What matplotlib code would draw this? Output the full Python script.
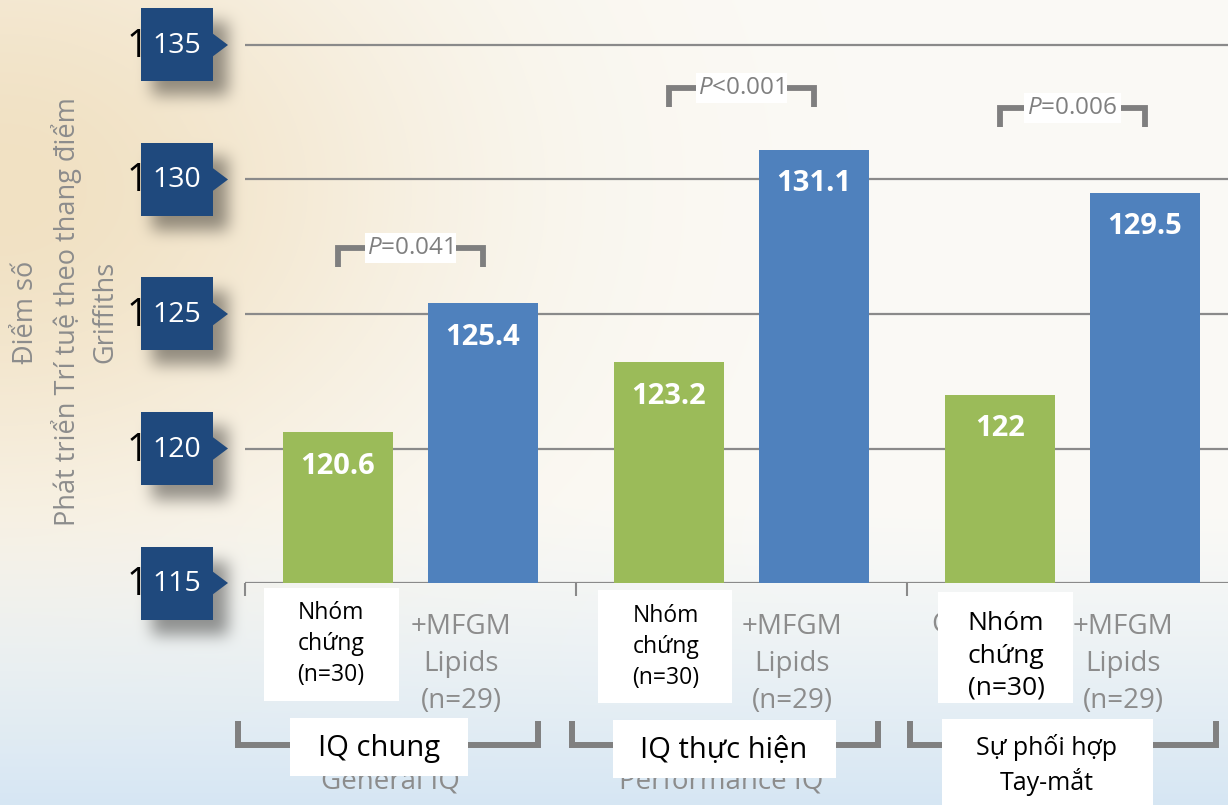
import numpy as np
import matplotlib
matplotlib.use("Agg")
import matplotlib.pyplot as plt
from matplotlib.patches import Rectangle, Polygon

plt.rcParams['font.family'] = ['Open Sans', 'DejaVu Sans']
plt.rcParams['mathtext.fontset'] = 'custom'
plt.rcParams['mathtext.rm'] = 'Open Sans'
plt.rcParams['mathtext.it'] = 'Open Sans:italic'

# ---- data ----
group_labels_vi = ["IQ chung", "IQ thực hiện", "Sự phối hợp\nTay-mắt"]
group_labels_en = ["General IQ", "Performance IQ", ""]
control_values = [120.6, 123.2, 122.0]
mfgm_values = [125.4, 131.1, 129.5]
control_label_vi = "Nhóm\nchứng\n(n=30)"
control_label_en = "Control\n(n=30)"
mfgm_label = "+MFGM\nLipids\n(n=29)"
p_texts = ["$P$=0.041", "$P$<0.001", "$P$=0.006"]
y_ticks = [115, 120, 125, 130, 135]
y_label = "Điểm số\nPhát triển Trí tuệ theo thang điểm\nGriffiths"

# ---- layout ----
W, H = 1228, 805
GREEN = "#9BBB59"
BLUE = "#4F81BD"
NAVY = "#1F497D"
GREY = "#7f7f7f"
bar_w = 0.335
bar_off = 0.219
p_bracket_y = [127.45, 133.4, 132.65]
p_drop = 0.71
ctrl_boxes = [(264, 588, 135, 113), (598, 590, 134, 113), (938, 592, 135, 111)]
ctrl_text_pos = [(331, 644, 16.5), (666, 647, 16.5), (1006, 656, 19)]
group_brackets = [(238, 538), (572, 878), (910, 1216)]
label_boxes = [(290, 718, 178, 58), (613, 720, 223, 58), (942, 719, 211, 90)]
label_text_pos = [(379, 748, 21), (724, 750, 21), (1047, 765, 18)]

fig = plt.figure(figsize=(W / 100, H / 100), dpi=100)
ax = fig.add_axes([245 / W, (H - 583) / H, 993 / W, 583 / H], zorder=2)
ax.set_xlim(-0.5, 2.5)
ax.set_ylim(115, 115 + 583 / 26.9)
ax.patch.set_alpha(0)


def to_px(x, y):
    dx, dy = ax.transData.transform((x, y))
    return dx, H - dy


# ---- background with soft shadows behind the tick badges ----
yy, xx = np.mgrid[0:H, 0:W].astype(float)
base = np.array([251, 250, 246]) / 255
warm = np.array([241, 225, 195]) / 255
cool = np.array([214, 230, 243]) / 255
wmask = np.exp(-((xx / 430) ** 2 + ((yy - 190) / 330) ** 2))
cmask = np.clip((yy - 500) / 305, 0, 1) ** 1.3
img = base * (1 - wmask[..., None]) + warm * wmask[..., None]
img = img * (1 - cmask[..., None]) + cool * cmask[..., None]


def box_blur(a, r):
    for axis in (0, 1):
        pad = [(0, 0), (0, 0)]
        pad[axis] = (r + 1, r)
        p = np.pad(a, pad, mode="edge")
        cs = np.cumsum(p, axis=axis)
        if axis == 0:
            a = (cs[2 * r + 1:] - cs[:-2 * r - 1]) / (2 * r + 1)
        else:
            a = (cs[:, 2 * r + 1:] - cs[:, :-2 * r - 1]) / (2 * r + 1)
    return a


shadow = np.zeros((H, W))
for t in y_ticks:
    _, py = to_px(-0.5, t)
    y0 = int(py - 36 + 15)
    shadow[max(y0, 0):int(py + 37 + 15), 152:228] = 1.0
for _ in range(3):
    shadow = box_blur(shadow, 7)
img = img * (1 - 0.4 * shadow[..., None])

bg = fig.add_axes([0, 0, 1, 1], zorder=0)
bg.imshow(img, aspect="auto", extent=[0, 1, 0, 1], origin="upper")
bg.set_xlim(0, 1)
bg.set_ylim(0, 1)
bg.axis("off")

# ---- bars, grid, values ----
x = np.arange(len(control_values))
for t in y_ticks:
    ax.axhline(t, color="#8a8a8a", lw=1.6, zorder=1)
ax.bar(x - bar_off, control_values, width=bar_w, color=GREEN, zorder=3)
ax.bar(x + bar_off, mfgm_values, width=bar_w, color=BLUE, zorder=3)
for xi, v in zip(x - bar_off, control_values):
    ax.annotate(f"{v:g}", (xi, v), xytext=(0, -34), textcoords="offset pixels",
                ha="center", va="center", color="white", fontsize=21,
                fontweight="bold", zorder=4)
for xi, v in zip(x + bar_off, mfgm_values):
    ax.annotate(f"{v:g}", (xi, v), xytext=(0, -34), textcoords="offset pixels",
                ha="center", va="center", color="white", fontsize=21,
                fontweight="bold", zorder=4)

for s in ax.spines.values():
    s.set_visible(False)
ax.set_yticks([])
ax.set_xticks([])
ax.set_xticks([-0.5, 0.5, 1.5, 2.5], minor=True)
ax.tick_params(axis="x", which="minor", length=9, width=1.5, color="#8a8a8a",
               direction="out", labelbottom=False)

# significance brackets
for i, (ptxt, yb) in enumerate(zip(p_texts, p_bracket_y)):
    x0, x1 = i - bar_off, i + bar_off
    ax.plot([x0, x0, x1, x1], [yb - p_drop, yb, yb, yb - p_drop], color=GREY,
            lw=4.2, solid_joinstyle="miter", solid_capstyle="butt", zorder=5)
    ax.text(i, yb, ptxt, ha="center", va="center", color=GREY, fontsize=17.5,
            zorder=6, bbox=dict(boxstyle="square,pad=0.12", fc="white", ec="none"))

# ---- overlay layer in pixel coordinates ----
ov = fig.add_axes([0, 0, 1, 1], zorder=5)
ov.set_xlim(0, W)
ov.set_ylim(H, 0)
ov.axis("off")
ov.patch.set_alpha(0)

# y tick badges
for t in y_ticks:
    _, py = to_px(-0.5, t)
    ov.text(127, py + 2, str(t), ha="left", va="center", color="black",
            fontsize=27, zorder=1)
    ov.add_patch(Rectangle((141, py - 36.5), 72, 73, fc=NAVY, ec="none", zorder=2))
    ov.add_patch(Polygon([(212, py - 12), (228, py), (212, py + 12)], closed=True,
                         fc=NAVY, ec="none", zorder=2))
    ov.text(177, py + 1, str(t), ha="center", va="center", color="white",
            fontsize=20.5, zorder=3)

ov.text(66, 312, y_label, rotation=90, ha="center", va="center",
        multialignment="center", color="#8c8c8c", fontsize=19.5, linespacing=1.45)

# category labels under the bars
for i in range(len(control_values)):
    gx, _ = to_px(i - bar_off, 115)
    bx, _ = to_px(i + bar_off, 115)
    ov.text(gx - 21, 644, control_label_en, ha="center", va="center", color="#8c8c8c",
            fontsize=20, linespacing=1.45, zorder=1)
    ov.text(bx - 22, 664, mfgm_label, ha="center", va="center", color="#8c8c8c",
            fontsize=20, linespacing=1.45, zorder=1)
    ov.text((gx + bx) / 2 - 20, 781, group_labels_en[i],
            ha="center", va="center", color="#8c8c8c", fontsize=20, zorder=1)

for (rx, ry, rw, rh) in ctrl_boxes:
    ov.add_patch(Rectangle((rx, ry), rw, rh, fc="white", ec="none", zorder=3))
for (tx, ty, fs) in ctrl_text_pos:
    ov.text(tx, ty, control_label_vi, ha="center", va="center", color="black",
            fontsize=fs, linespacing=1.38, zorder=4)

# group brackets and their labels
for (l, r) in group_brackets:
    ov.plot([l, l, r, r], [721, 745, 745, 721], color="#808080", lw=4.3,
            solid_joinstyle="miter", solid_capstyle="butt", zorder=2)
for (rx, ry, rw, rh) in label_boxes:
    ov.add_patch(Rectangle((rx, ry), rw, rh, fc="white", ec="none", zorder=3))
for lab, (tx, ty, fs) in zip(group_labels_vi, label_text_pos):
    ov.text(tx, ty, lab, ha="center", va="center", color="black", fontsize=fs,
            linespacing=1.3, zorder=4)

fig.savefig("out.png", dpi=100)
